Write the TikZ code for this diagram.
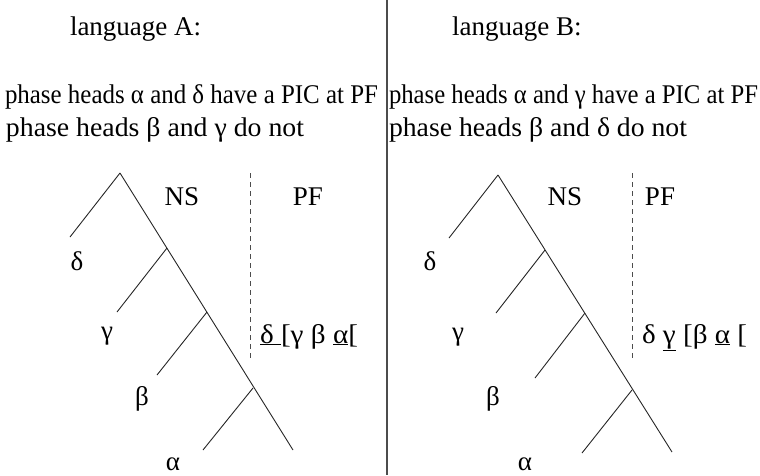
\documentclass[tikz,border=0pt]{standalone}
\usepackage{fontspec}
\usepackage{graphicx}
\setmainfont{Liberation Serif}
\tikzset{
  txt/.style={inner sep=0pt, outer sep=0pt, font=\fontsize{27}{31}\selectfont},
  lab/.style={txt, anchor=base},
  branch/.style={line width=0.9pt, black!85},
  border/.style={dashed, dash pattern=on 5pt off 4pt, line width=0.9pt, black!70},
  divider/.style={line width=1.4pt, black!70}
}
% set a line of text to a given width, keeping its height
\newcommand{\fitto}[2]{\resizebox{#1}{\height}{#2}}
\begin{document}
\begin{tikzpicture}[x=1pt, y=-1pt]
  \useasboundingbox (0,0) rectangle (760,475);

  % column divider
  \coordinate (dtop) at (387,0);
  \coordinate (dbot) at (387,475);
  \draw[divider] (dtop) -- (dbot);

  % ---------- language A ----------
  \node[txt, anchor=base west] (hA) at (70,35) {language A:};
  \node[txt, anchor=base west] (a1) at (5,103) {\fitto{373pt}{phase heads α and δ have a PIC at PF}};
  \node[txt, anchor=base west] (a2) at (6,136) {\fitto{298pt}{phase heads β and γ do not}};

  \coordinate (Aroot) at (120,173);
  \coordinate (Aend)  at (293,450);
  \coordinate (An1) at (167,248);
  \coordinate (An2) at (207,312);
  \coordinate (An3) at (253,388);
  \coordinate (Al0) at (70,237);
  \coordinate (Al1) at (117,312);
  \coordinate (Al2) at (157,375);
  \coordinate (Al3) at (203,450);
  \draw[branch] (Aroot) -- (Aend);
  \draw[branch] (Aroot) -- (Al0);
  \draw[branch] (An1) -- (Al1);
  \draw[branch] (An2) -- (Al2);
  \draw[branch] (An3) -- (Al3);

  \node[lab] (Ad) at (77,270) {δ};
  \node[lab] (Ag) at (107,339) {γ};
  \node[lab] (Ab) at (142,405) {β};
  \node[lab] (Aa) at (173,470) {α};

  \node[lab] (Ans) at (182,205) {NS};
  \node[lab] (Apf) at (308,205) {PF};
  \coordinate (Abt) at (250,173);
  \coordinate (Abb) at (250,358);
  \draw[border] (Abt) -- (Abb);
  \node[txt, anchor=base west] (Aseq) at (260,343) {\fitto{98pt}{\underline{δ }[γ β \underline{α}[}};

  % ---------- language B ----------
  \node[txt, anchor=base west] (hB) at (452,35) {language B:};
  \node[txt, anchor=base west] (b1) at (389,103) {\fitto{369pt}{phase heads α and γ have a PIC at PF}};
  \node[txt, anchor=base west] (b2) at (389,136) {\fitto{298pt}{phase heads β and δ do not}};

  \coordinate (Broot) at (498,175);
  \coordinate (Bend)  at (672,452);
  \coordinate (Bn1) at (545,250);
  \coordinate (Bn2) at (585,313);
  \coordinate (Bn3) at (632,390);
  \coordinate (Bl0) at (449,238);
  \coordinate (Bl1) at (496,313);
  \coordinate (Bl2) at (535,378);
  \coordinate (Bl3) at (582,453);
  \draw[branch] (Broot) -- (Bend);
  \draw[branch] (Broot) -- (Bl0);
  \draw[branch] (Bn1) -- (Bl1);
  \draw[branch] (Bn2) -- (Bl2);
  \draw[branch] (Bn3) -- (Bl3);

  \node[lab] (Bd) at (430,270) {δ};
  \node[lab] (Bg) at (458,340) {γ};
  \node[lab] (Bb) at (493,405) {β};
  \node[lab] (Ba) at (525,470) {α};

  \node[lab] (Bns) at (565,205) {NS};
  \node[lab] (Bpf) at (660,205) {PF};
  \coordinate (Bbt) at (632,173);
  \coordinate (Bbb) at (632,358);
  \draw[border] (Bbt) -- (Bbb);
  \node[txt, anchor=base west] (Bseq) at (642,343) {\fitto{105pt}{δ \underline{γ} [β \underline{α} [}};
\end{tikzpicture}
\end{document}
